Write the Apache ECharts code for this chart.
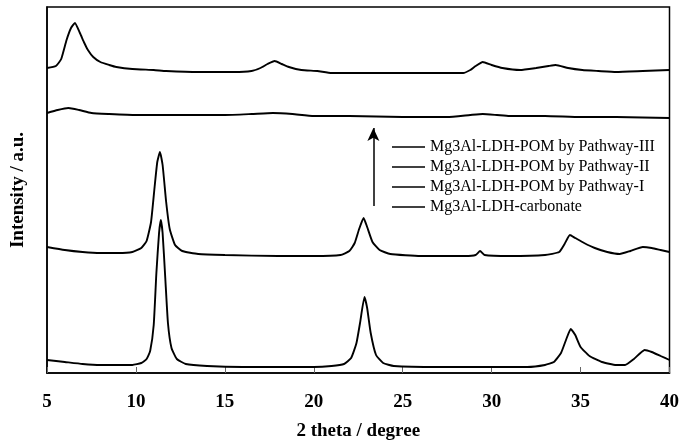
<!DOCTYPE html>
<html>
<head>
<meta charset="utf-8">
<script src="https://cdn.jsdelivr.net/npm/echarts@6/dist/echarts.min.js"></script>
<style>
    html,body{margin:0;padding:0;background:#fff;}
    #main{width:682px;height:447px;}
</style>
</head>
<body>
<div id="main"></div>
<script>
// series names, top to bottom in the legend
let names=['Mg3Al-LDH-POM by Pathway-III','Mg3Al-LDH-POM by Pathway-II','Mg3Al-LDH-POM by Pathway-I','Mg3Al-LDH-carbonate'];
// vertical offsets of each pattern (stacked plot)
let offsets=[300,255,116,0];
let xTicks=[5,10,15,20,25,30,35,40];

// [2theta, intensity]
let pathway3=[[5,5],[5.5,7],[5.8,14],[6.1,33],[6.35,45],[6.57,50],[6.85,40],[7.1,30],[7.3,23],[7.6,16],[8,11],[8.5,8],[8.9,6],[9.8,4],[11,3],[11.7,2],[13.5,1],[15.5,1],[16.5,2],[17,5],[17.4,9],[17.8,12],[18.2,9],[18.6,6],[19.3,3],[20.2,2],[21,0],[24,0],[27,0],[28.4,0],[28.8,3],[29.1,7],[29.5,11],[30,8],[30.6,5],[31.6,3],[32.5,5],[33.2,7],[33.6,8],[34.3,5],[35.1,3],[36,2],[37,1],[38.5,2],[40,3]];
let pathway2=[[5,5],[5.6,8],[6.2,10],[6.8,8],[7.5,5],[8.5,4],[10,3],[12,3],[15,3],[16.5,4],[17.7,5],[18.8,4],[20,2],[22,2],[25,1],[27.5,1],[28.8,3],[29.5,4],[30.3,3],[31,2],[33,2],[35,1],[37,1],[40,0]];
let pathway1=[[5,10],[6,7],[7,5],[8,4],[9,4],[9.8,5],[10.3,9],[10.6,16],[10.85,35],[11.05,70],[11.2,95],[11.35,105],[11.5,92],[11.7,55],[11.9,28],[12.2,12],[12.6,6],[13.5,3],[15,2],[18,1],[20,1],[21.5,2],[22,6],[22.3,14],[22.55,28],[22.8,39],[23,30],[23.3,15],[23.7,7],[24.3,3],[26,1],[28.5,1],[29.1,2],[29.35,6],[29.6,2],[31,1],[33,2],[33.8,5],[34.1,13],[34.4,22],[34.7,19],[35.2,14],[35.8,9],[36.5,5],[37.2,3],[37.8,6],[38.5,10],[39,9],[39.5,7],[40,5]];
let carbonate=[[5,13],[6,11],[7,9],[8,8],[9,8],[9.8,8],[10.3,10],[10.6,14],[10.8,22],[11,48],[11.15,100],[11.3,140],[11.4,153],[11.5,140],[11.65,95],[11.8,50],[12,25],[12.3,14],[12.8,9],[14,7],[16,6],[18,6],[20,6],[21,7],[21.7,9],[22.1,15],[22.4,30],[22.6,50],[22.85,76],[23,65],[23.2,40],[23.5,18],[23.9,10],[24.5,7],[27,6],[30,6],[32,6],[33,8],[33.5,11],[33.9,20],[34.2,34],[34.45,44],[34.7,38],[35,26],[35.5,17],[36.2,11],[37,8],[37.5,8],[38,14],[38.6,23],[39,21],[39.5,17],[40,13]];
let patterns=[pathway3,pathway2,pathway1,carbonate];

// arrow next to the legend (2theta, from, to)
let arrowX=23.35, arrowFrom=167, arrowTo=245;

window.addEventListener('load',function () {
    let chart=echarts.init(document.getElementById('main'));
    let font='"Liberation Serif","Times New Roman",serif';

    let series=patterns.map(function (p,i) {
        return {
            name: names[i],
            type: 'line',
            symbol: 'none',
            smooth: 0.15,
            lineStyle: {color: '#000', width: 1.9},
            itemStyle: {color: '#000'},
            data: p.map(function (d) { return [d[0], d[1]+offsets[i]]; })
        };
    });
    series[0].markLine={
        silent: true,
        symbol: ['none','arrow'],
        symbolSize: [9,13],
        label: {show: false},
        lineStyle: {color: '#000', width: 1.5, type: 'solid'},
        data: [[{coord: [arrowX, arrowFrom]}, {coord: [arrowX, arrowTo]}]]
    };

    let option={
        animation: false,
        textStyle: {fontFamily: font},
        grid: {left: 47, right: 12, top: 7, bottom: 74, show: true, borderColor: '#000', borderWidth: 1.5},
        legend: {
            orient: 'vertical',
            left: 387,
            top: 134,
            icon: 'rect',
            itemWidth: 33,
            itemHeight: 1.6,
            itemGap: 4,
            data: names,
            textStyle: {fontFamily: font, fontSize: 16, lineHeight: 16, color: '#000'}
        },
        xAxis: {
            type: 'value',
            min: 5,
            max: 40,
            interval: 5,
            name: '2 theta / degree',
            nameLocation: 'middle',
            nameGap: 49,
            nameTextStyle: {fontFamily: font, fontSize: 19, fontWeight: 'bold', color: '#000'},
            axisLine: {lineStyle: {color: '#000', width: 1.5}},
            axisTick: {inside: true, length: 6, lineStyle: {color: '#666', width: 1}},
            axisLabel: {
                margin: 20, fontFamily: font, fontSize: 19, fontWeight: 'bold', color: '#000',
                formatter: function (v) { return xTicks.indexOf(v)>=0 ? String(v) : ''; }
            },
            splitLine: {show: false}
        },
        yAxis: {
            type: 'value',
            min: 0,
            max: 366,
            name: 'Intensity / a.u.',
            nameLocation: 'middle',
            nameGap: 19,
            nameTextStyle: {fontFamily: font, fontSize: 19, fontWeight: 'bold', color: '#000'},
            axisLine: {show: true, lineStyle: {color: '#000', width: 1.5}},
            axisTick: {show: false},
            axisLabel: {show: false},
            splitLine: {show: false}
        },
        series: series
    };

    chart.setOption(option);
},false)
</script>
</body>
</html>
